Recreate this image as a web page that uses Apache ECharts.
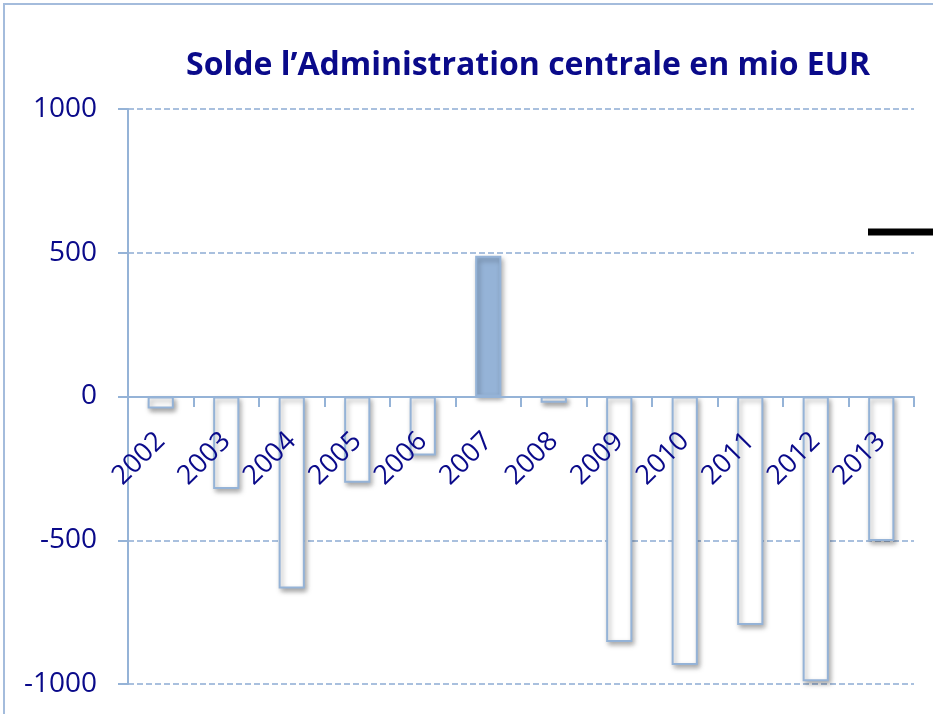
<!DOCTYPE html>
<html>
<head>
<meta charset="utf-8">
<script src="https://cdn.jsdelivr.net/npm/echarts@6/dist/echarts.min.js"></script>
<style>
  html, body { margin: 0; padding: 0; background: #fff; }
  #chart { width: 933px; height: 714px; }
</style>
</head>
<body>
<div id="chart"></div>
<script>
// données
const annees = ['2002', '2003', '2004', '2005', '2006', '2007', '2008', '2009', '2010', '2011', '2012', '2013'];
const solde = [-42, -322, -668, -300, -205, 490, -22, -854, -934, -795, -990, -503];
const yTicks = [-1000, -500, 0, 500, 1000];

const bleu = '#95b3d7';
const marine = '#0a0a8a';

// seule l'année positive est remplie
const barres = solde.map(function (v) {
  return {
    value: v,
    itemStyle: { color: v > 0 ? bleu : '#ffffff' }
  };
});

// l'axe des catégories est posé sur le zéro (grille 109..684, zéro à 397)
const decalageAxe = -(684 - 397);

let chart = echarts.init(document.getElementById('chart'));
chart.setOption({
  animation: false,
  title: {
    text: 'Solde l\u2019Administration centrale en mio EUR',
    left: 181,
    top: 45,
    textStyle: { color: marine, fontFamily: 'Open Sans', fontWeight: 'bold', fontSize: 32 }
  },
  grid: { left: 128, right: 19, top: 109, bottom: 30, containLabel: false, outerBoundsMode: 'none' },
  xAxis: {
    type: 'category',
    data: annees,
    offset: decalageAxe,
    axisLine: { onZero: false, lineStyle: { color: bleu, width: 2 } },
    axisTick: { show: true, length: 10, lineStyle: { color: bleu, width: 2 } },
    axisLabel: {
      rotate: 45, margin: 40, color: marine,
      fontFamily: 'Open Sans', fontSize: 27
    },
    z: 5
  },
  yAxis: {
    type: 'value',
    min: yTicks[0],
    max: yTicks[yTicks.length - 1],
    interval: 500,
    axisLine: { show: true, lineStyle: { color: bleu, width: 2 } },
    axisTick: { show: true, length: 10, lineStyle: { color: bleu, width: 2 } },
    axisLabel: {
      margin: 31, color: marine, fontFamily: 'Open Sans', fontSize: 28,
      formatter: function (v) { return String(v); }
    },
    splitLine: { lineStyle: { color: '#a9c0de', width: 2, type: [6, 3] } }
  },
  series: [{
    type: 'bar',
    data: barres,
    barWidth: '40%',
    itemStyle: {
      borderColor: bleu,
      borderWidth: 2,
      shadowColor: 'rgba(0,0,0,0.35)',
      shadowBlur: 5,
      shadowOffsetX: 2,
      shadowOffsetY: 3
    },
    z: 2
  }],
  graphic: [
    {
      type: 'rect',
      shape: { x: 4, y: 4, width: 1000, height: 1000 },
      style: { fill: 'none', stroke: '#a4bcdc', lineWidth: 2 },
      silent: true
    },
    {
      type: 'line',
      shape: { x1: 868, y1: 232, x2: 933, y2: 232 },
      style: { stroke: '#000', lineWidth: 7 },
      silent: true
    }
  ]
});
</script>
</body>
</html>
